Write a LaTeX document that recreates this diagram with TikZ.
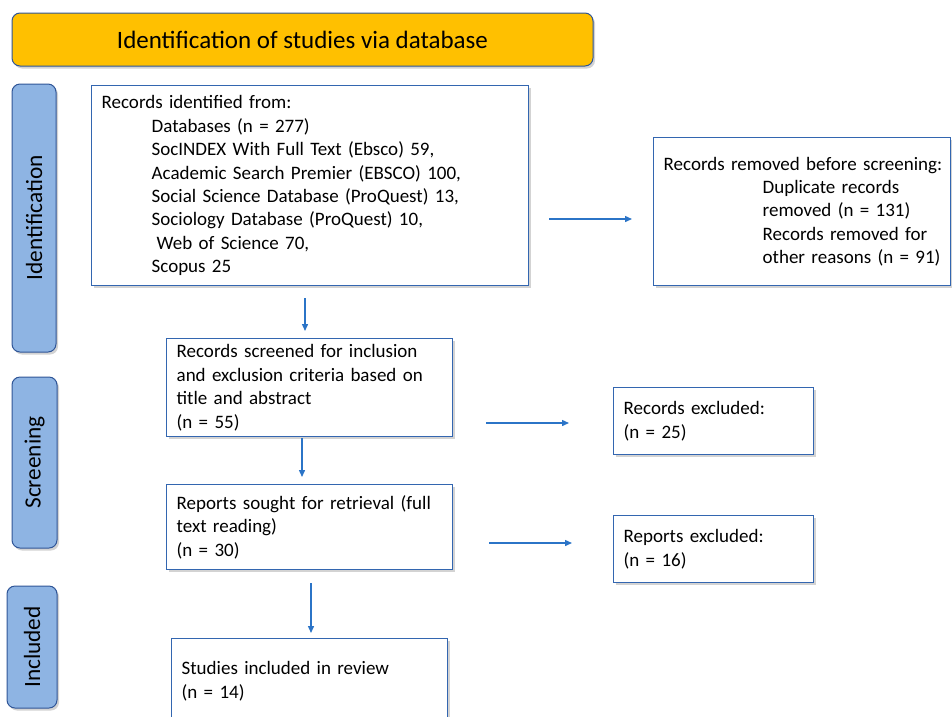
\documentclass[tikz,border=0pt]{standalone}
\usepackage{fontspec}
\setmainfont{Carlito}
\usetikzlibrary{arrows.meta,shadows}
\definecolor{bannerfill}{HTML}{FFC000}
\definecolor{edgeblue}{HTML}{2F5597}
\definecolor{barfill}{HTML}{8EB4E3}
\definecolor{boxedge}{HTML}{3366B0}
\definecolor{arrowblue}{HTML}{2B74C7}
\begin{document}
\begin{tikzpicture}[x=1pt,y=-1pt,
 shade/.style={drop shadow={shadow xshift=2pt,shadow yshift=-2.5pt,opacity=0.35,fill=black!50}},
 box/.style={draw=boxedge,line width=1.3pt,fill=white,shade,rectangle,inner xsep=10pt,inner ysep=0pt,
   align=left,font=\fontsize{19}{23.4}\selectfont,anchor=north west},
 bar/.style={draw=edgeblue,fill=barfill,rounded corners=8pt,line width=1pt,rotate=90,shade,
   font=\fontsize{23.3}{27}\selectfont},
 arr/.style={draw=arrowblue,line width=1.4pt,-{Triangle[length=7pt,width=6pt]}}
]
\useasboundingbox (0,0) rectangle (952,716);
\clip (0,0) rectangle (952,716);

% banner
\node[draw=edgeblue,fill=bannerfill,rounded corners=8pt,line width=1pt,shade,
  minimum width=581pt,minimum height=53pt,font=\fontsize{25}{29}\selectfont]
  (banner) at (302.5,39.5) {Identification of studies via database};

% side bars
\node[bar,minimum width=268pt,minimum height=44pt] (idbar) at (34,218) {Identification};
\node[bar,minimum width=171pt,minimum height=45pt] (scbar) at (34.5,462.5) {Screening};
\node[bar,minimum width=122pt,minimum height=50pt] (inbar) at (32,647) {Included};

% boxes
\node[box,text width=417pt,minimum height=200pt] (b1) at (91,85)
 {Records identified from:\\
  \hspace*{50pt}Databases (n = 277)\\
  \hspace*{50pt}SocINDEX With Full Text (Ebsco) 59,\\
  \hspace*{50pt}Academic Search Premier (EBSCO) 100,\\
  \hspace*{50pt}Social Science Database (ProQuest) 13,\\
  \hspace*{50pt}Sociology Database (ProQuest) 10,\\
  \hspace*{55pt}Web of Science 70,\\
  \hspace*{50pt}Scopus 25};

\node[box,text width=277pt,minimum height=148pt] (b2) at (653,137)
 {\mbox{Records removed before screening:}\\
  \hspace*{99pt}Duplicate records\\
  \hspace*{99pt}removed (n = 131)\\
  \hspace*{99pt}Records removed for\\
  \hspace*{99pt}other reasons (n = 91)};

\node[box,text width=266pt,minimum height=98pt] (b3) at (166,338)
 {Records screened for inclusion\\and exclusion criteria based on\\title and abstract\\(n = 55)};

\node[box,text width=180pt,minimum height=67pt] (b4) at (613,387)
 {Records excluded:\\(n = 25)};

\node[box,text width=266pt,minimum height=85pt] (b5) at (166,484)
 {Reports sought for retrieval (full\\text reading)\\(n = 30)};

\node[box,text width=180pt,minimum height=67pt] (b6) at (613,515)
 {Reports excluded:\\(n = 16)};

\node[box,text width=256pt,minimum height=85pt] (b7) at (171,638)
 {Studies included in review\\(n = 14)};

% arrows
\draw[arr,shorten <=20pt,shorten >=21pt] (b1.east |- 0,219) -- (b2.west |- 0,219);
\draw[arr,shorten <=12pt,shorten >=7pt] (b1.south -| 305,0) -- (b3.north -| 305,0);
\draw[arr,shorten <=33pt,shorten >=44pt] (b3.east |- 0,423) -- (b4.west |- 0,423);
\draw[arr,shorten <=1pt,shorten >=7pt] (b3.south -| 302,0) -- (b5.north -| 302,0);
\draw[arr,shorten <=36pt,shorten >=41pt] (b5.east |- 0,543) -- (b6.west |- 0,543);
\draw[arr,shorten <=13pt,shorten >=5pt] (b5.south -| 311,0) -- (b7.north -| 311,0);
\end{tikzpicture}
\end{document}
